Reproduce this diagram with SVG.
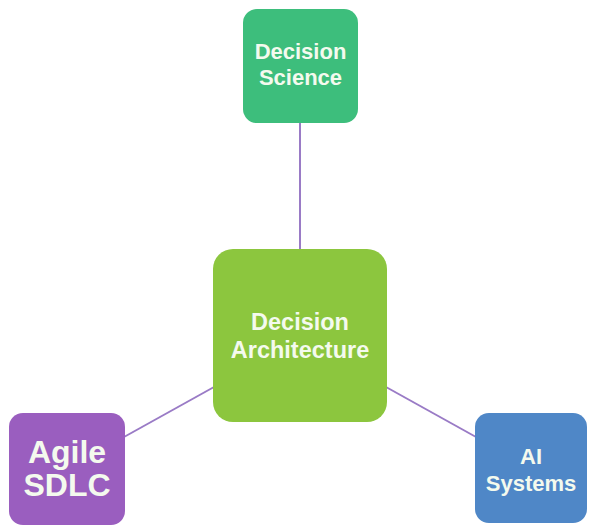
<svg xmlns="http://www.w3.org/2000/svg" width="589" height="527" viewBox="0 0 589 527">
<style>
.lbl{font-family:"Liberation Sans",Arial,sans-serif;font-weight:bold;fill:#F4FAEE;text-anchor:middle}
.conn line{stroke:#9A7BC6;stroke-width:2}
</style>
<rect width="589" height="527" fill="#FFFFFF"/>
<g id="connectors" class="conn">
<line x1="300" y1="123" x2="300" y2="249"/>
<line x1="214" y1="387" x2="124" y2="437"/>
<line x1="386" y1="387" x2="476" y2="437"/>
</g>
<g id="decision-science">
<rect x="243" y="9" width="115" height="114" rx="14" fill="#3DBE7C"/>
<text class="lbl" x="300.5" y="59" font-size="22">Decision</text>
<text class="lbl" x="300.5" y="85" font-size="22">Science</text>
</g>
<g id="decision-architecture">
<rect x="213" y="249" width="174" height="173" rx="20" fill="#8CC63E"/>
<text class="lbl" x="300" y="330" font-size="23.5">Decision</text>
<text class="lbl" x="300" y="358" font-size="23.5">Architecture</text>
</g>
<g id="agile-sdlc">
<rect x="9" y="413" width="116" height="112" rx="14" fill="#9A5EBF"/>
<text class="lbl" x="67" y="463" font-size="32">Agile</text>
<text class="lbl" x="67" y="496" font-size="32">SDLC</text>
</g>
<g id="ai-systems">
<rect x="475" y="413" width="112" height="110" rx="14" fill="#4F87C7"/>
<text class="lbl" x="531" y="464" font-size="22">AI</text>
<text class="lbl" x="531" y="491" font-size="22">Systems</text>
</g>
</svg>
